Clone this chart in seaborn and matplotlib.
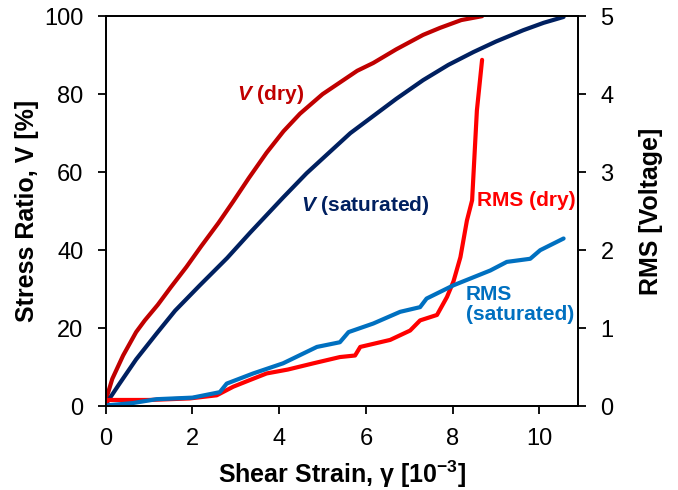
import numpy as np
import pandas as pd
import seaborn as sns
import matplotlib.pyplot as plt

# values
v_dry_x = [0.0, 0.15, 0.4, 0.7, 0.9, 1.2, 1.5, 1.86, 2.2, 2.6, 2.94, 3.3, 3.71, 4.1, 4.48, 5.0, 5.4, 5.8, 6.17, 6.7, 7.32, 7.71, 8.2, 8.68]
v_dry_y = [1.5, 7, 13, 19, 22, 26, 30.5, 35.7, 41, 47, 52.5, 58.5, 65, 70.5, 75, 80, 83, 86, 88, 91.5, 95.2, 97, 99, 100]

v_sat_x = [0.0, 0.3, 0.7, 1.17, 1.6, 2.17, 2.8, 3.33, 4.09, 4.63, 5.1, 5.64, 6.17, 6.7, 7.32, 7.9, 8.48, 9.0, 9.63, 10.1, 10.56]
v_sat_y = [0.5, 5.5, 12, 18.6, 24.5, 31, 38, 44.5, 53.5, 59.7, 64.5, 70, 74.4, 78.8, 83.6, 87.5, 90.8, 93.5, 96.4, 98.3, 99.8]

rms_dry_x = [0.0, 0.03, 1.0, 1.94, 2.56, 2.94, 3.3, 3.71, 4.2, 4.79, 5.4, 5.75, 5.87, 6.56, 7.02, 7.25, 7.64, 7.87, 8.02, 8.18, 8.33, 8.45, 8.56, 8.68]
rms_dry_y = [0.0, 0.08, 0.08, 0.1, 0.14, 0.25, 0.33, 0.42, 0.47, 0.55, 0.63, 0.65, 0.76, 0.85, 0.97, 1.1, 1.17, 1.4, 1.6, 1.91, 2.38, 2.64, 3.79, 4.44]

rms_sat_x = [0.0, 0.62, 1.17, 2.0, 2.63, 2.79, 3.4, 4.09, 4.87, 5.4, 5.6, 6.17, 6.79, 7.25, 7.4, 8.02, 8.87, 9.25, 9.79, 10.02, 10.56]
rms_sat_y = [0.01, 0.04, 0.09, 0.11, 0.18, 0.29, 0.42, 0.55, 0.76, 0.82, 0.95, 1.06, 1.21, 1.27, 1.38, 1.55, 1.74, 1.85, 1.89, 2.0, 2.15]

sns.set_style("ticks")
plt.rcParams['font.family'] = ['Liberation Sans', 'DejaVu Sans']
plt.rcParams['mathtext.fontset'] = 'custom'
plt.rcParams['mathtext.rm'] = 'Liberation Sans:bold'
plt.rcParams['mathtext.bf'] = 'Liberation Sans:bold'
plt.rcParams['mathtext.it'] = 'Liberation Sans:italic:bold'

fig, ax = plt.subplots(figsize=(6.78, 4.9), dpi=100)
fig.subplots_adjust(left=0.156, right=0.853, bottom=0.171, top=0.967)
ax2 = ax.twinx()

lw = 3
sns.lineplot(x=v_dry_x, y=v_dry_y, ax=ax, color="#C00000", lw=lw, sort=False)
sns.lineplot(x=v_sat_x, y=v_sat_y, ax=ax, color="#002060", lw=lw, sort=False)
sns.lineplot(x=rms_dry_x, y=rms_dry_y, ax=ax2, color="#FF0000", lw=lw, sort=False)
sns.lineplot(x=rms_sat_x, y=rms_sat_y, ax=ax2, color="#0070C0", lw=lw, sort=False)

ax.set_xlim(0, 10.9)
ax.set_ylim(0, 100)
ax2.set_ylim(0, 5)
ax.set_xticks([0, 2, 4, 6, 8, 10])
ax.set_yticks([0, 20, 40, 60, 80, 100])
ax2.set_yticks([0, 1, 2, 3, 4, 5])

for a in (ax, ax2):
    a.tick_params(direction="out", length=6, width=1.3, pad=10, labelsize=17,
                  colors="black", labelcolor="black")
    for s in a.spines.values():
        s.set_visible(True)
        s.set_linewidth(1.3)
        s.set_color("black")

ax.set_xlabel("Shear Strain, γ [10$^{-3}$]", fontsize=18, fontweight="bold", color="black", labelpad=6)
ax.set_ylabel("Stress Ratio, V [%]", fontsize=18, fontweight="bold", color="black", labelpad=4)
ax2.set_ylabel("RMS [Voltage]", fontsize=18, fontweight="bold", color="black", labelpad=18)

ax.text(3.8, 80, "$\\mathit{V}$ (dry)", color="#C00000", fontsize=15, fontweight="bold", ha="center", va="center")
ax.text(5.99, 51.5, "$\\mathit{V}$ (saturated)", color="#002060", fontsize=15, fontweight="bold", ha="center", va="center")
ax2.text(9.7, 2.64, "RMS (dry)", color="#FF0000", fontsize=15, fontweight="bold", ha="center", va="center")
ax2.text(8.3, 1.3, "RMS\n(saturated)", color="#0070C0", fontsize=15, fontweight="bold", ha="left", va="center", linespacing=1.05)

plt.savefig("out.png", dpi=100)
